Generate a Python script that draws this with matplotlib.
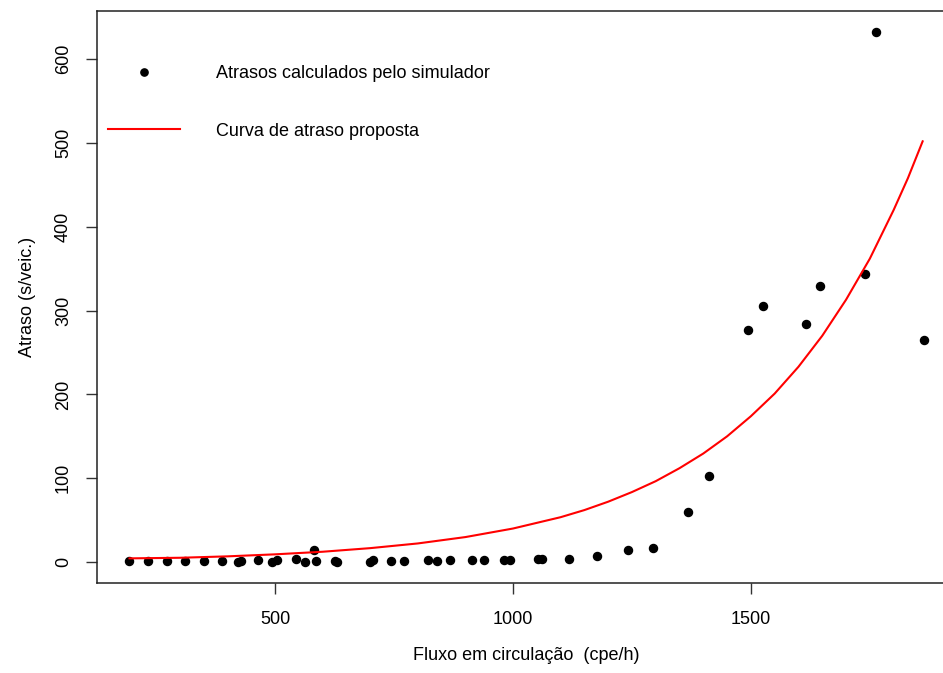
from matplotlib import pyplot as plt

# simulated delays (points)
fluxo = [194, 232, 272, 310, 351, 388, 421, 428, 465, 493, 505, 544, 562, 581,
         587, 625, 630, 700, 705, 744, 771, 821, 840, 868, 913, 939, 981, 994,
         1053, 1060, 1118, 1176, 1242, 1295, 1367, 1411, 1493, 1526, 1616, 1646,
         1740, 1762, 1864]
atraso = [1, 1, 1, 1, 1, 1, 0, 1, 2.5, 0, 2, 4, 0, 14,
          1, 1, 0, 0, 3, 1, 1, 2.5, 1, 2.5, 2.5, 2.5, 3, 3,
          4, 4, 4, 7, 14, 16.5, 60, 103, 277, 305, 284, 329,
          344, 632, 265]

# proposed delay curve
curva_x = [194, 300, 400, 500, 600, 700, 800, 900, 1000, 1100, 1150, 1200, 1250,
           1300, 1350, 1400, 1450, 1500, 1550, 1600, 1650, 1700, 1750, 1800,
           1830, 1861]
curva_y = [4.4, 5.1, 6.8, 9.2, 12.3, 16.6, 22.2, 29.8, 40, 53.5, 62, 72, 83.5,
           96.5, 112, 129.5, 150, 174, 201, 233, 270, 313, 362, 420, 458, 502]

plt.rcParams['font.family'] = ['Liberation Sans', 'DejaVu Sans']

fig = plt.figure(figsize=(9.43, 6.73), dpi=100)
ax = fig.add_axes([97/943, 90/673, 858/943, 572/673])

ax.plot(fluxo, atraso, 'o', color='black', markersize=5.8, linestyle='none',
        label='Atrasos calculados pelo simulador')
ax.plot(curva_x, curva_y, color='red', linewidth=1.5,
        label='Curva de atraso proposta')

ax.set_xlim(125.7, 1929)
ax.set_ylim(-25, 657.5)
ax.set_xticks([500, 1000, 1500])
ax.set_yticks([0, 100, 200, 300, 400, 500, 600])

ax.tick_params(axis='both', direction='out', length=8, width=1, labelsize=13, color='#333333')
ax.tick_params(axis='x', pad=12)
ax.tick_params(axis='y', pad=10)
for lab in ax.get_yticklabels():
    lab.set_rotation(90)
    lab.set_va('center')
for s in ax.spines.values():
    s.set_linewidth(1.1)
    s.set_color('#222222')

ax.set_xlabel('Fluxo em circulação  (cpe/h)', fontsize=13, labelpad=14)
ax.set_ylabel('Atraso (s/veic.)', fontsize=13, labelpad=14)

# legend without box, top left (like bty="n" in R)
ax.legend(loc='upper left', bbox_to_anchor=(108/943, 1 - 65/673),
          bbox_transform=fig.transFigure, frameon=False, fontsize=13,
          handlelength=4, handletextpad=2.0, labelspacing=2.25,
          borderpad=0, borderaxespad=0, markerscale=0.9)

fig.savefig('out.png', dpi=100)
